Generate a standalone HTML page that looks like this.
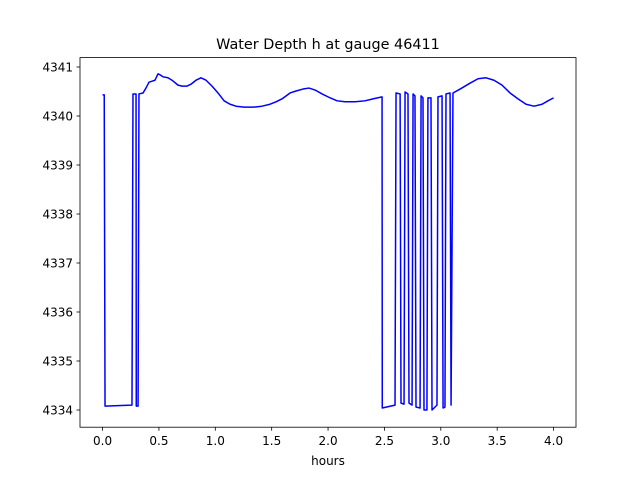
<!DOCTYPE html>
<html><head><meta charset="utf-8"><style>
body{margin:0;background:#fff;}
svg{display:block;font-family:"DejaVu Sans","Liberation Sans",sans-serif;}
</style></head><body>
<svg id="chart" width="640" height="480">
<rect width="640" height="480" fill="#fff"/>
<text x="328" y="49" font-size="14.4" text-anchor="middle">Water Depth h at gauge 46411</text>
<g id="xt"></g>
<g id="yt"></g>
<path id="line" fill="none" stroke="#0000ff" stroke-width="1.5" stroke-linejoin="round"/>
<rect x="80" y="57.6" width="496" height="369.6" fill="none" stroke="#000" stroke-width="0.8"/>
<text x="328" y="465" font-size="12" text-anchor="middle">hours</text>
</svg>
<script>
const times=[0,0.015,0.022,0.261,0.270,0.272,0.297,0.299,0.315,0.323,0.359,0.385,0.412,0.439,0.465,0.492,0.510,0.536,0.580,0.616,0.669,0.705,0.749,0.785,0.829,0.873,0.918,0.971,1.024,1.078,1.131,1.184,1.255,1.335,1.414,1.485,1.539,1.592,1.663,1.716,1.778,1.831,1.885,1.947,2.018,2.080,2.151,2.240,2.328,2.399,2.479,2.481,2.594,2.603,2.639,2.647,2.674,2.683,2.709,2.718,2.745,2.754,2.771,2.780,2.816,2.825,2.842,2.851,2.877,2.886,2.913,2.922,2.966,2.975,3.011,3.020,3.037,3.046,3.082,3.091,3.108,3.171,3.259,3.330,3.401,3.472,3.543,3.614,3.685,3.756,3.827,3.898,3.951,4.0];
const depths=[4340.43,4340.43,4334.08,4334.10,4340.45,4340.45,4340.45,4334.08,4334.08,4340.45,4340.47,4340.57,4340.69,4340.71,4340.73,4340.86,4340.84,4340.80,4340.78,4340.73,4340.63,4340.61,4340.61,4340.65,4340.73,4340.78,4340.73,4340.61,4340.47,4340.31,4340.24,4340.20,4340.18,4340.18,4340.20,4340.24,4340.29,4340.35,4340.47,4340.51,4340.55,4340.57,4340.53,4340.45,4340.37,4340.31,4340.29,4340.29,4340.31,4340.35,4340.39,4334.04,4334.10,4340.47,4340.45,4334.14,4334.12,4340.49,4340.45,4334.14,4334.10,4340.45,4340.41,4334.06,4334.04,4340.41,4340.37,4334.00,4334.00,4340.37,4340.37,4334.00,4334.10,4340.39,4340.41,4334.04,4334.06,4340.45,4340.47,4334.10,4340.47,4340.55,4340.67,4340.76,4340.78,4340.73,4340.63,4340.47,4340.35,4340.24,4340.20,4340.24,4340.31,4340.37];
const xTicks=[0,0.5,1,1.5,2,2.5,3,3.5,4];
const xLabels=["0.0","0.5","1.0","1.5","2.0","2.5","3.0","3.5","4.0"];
const yTicks=[4334,4335,4336,4337,4338,4339,4340,4341];
const yLabels=["4334","4335","4336","4337","4338","4339","4340","4341"];
const X=t=>102.55+t*112.75;
const Y=h=>410-(h-4334)*49;
const NS="http://www.w3.org/2000/svg";
const xt=document.getElementById('xt'),yt=document.getElementById('yt');
xTicks.forEach((t,i)=>{
 const l=document.createElementNS(NS,'line');
 l.setAttribute('x1',X(t));l.setAttribute('x2',X(t));l.setAttribute('y1',427.2);l.setAttribute('y2',430.7);l.setAttribute('stroke','#000');l.setAttribute('stroke-width','0.8');
 
 
 xt.appendChild(l);
 const tx=document.createElementNS(NS,'text');
 tx.setAttribute('x',X(t));tx.setAttribute('y',445);tx.setAttribute('font-size','12');tx.setAttribute('text-anchor','middle');tx.textContent=xLabels[i];
 
 
 xt.appendChild(tx);
});
yTicks.forEach((v,i)=>{
 const l=document.createElementNS(NS,'line');
 l.setAttribute('x1',76.5);l.setAttribute('x2',80);l.setAttribute('y1',Y(v));l.setAttribute('y2',Y(v));l.setAttribute('stroke','#000');l.setAttribute('stroke-width','0.8');
 
 
 yt.appendChild(l);
 const tx=document.createElementNS(NS,'text');
 tx.setAttribute('x',73);tx.setAttribute('y',Y(v)+4.5);tx.setAttribute('font-size','12');tx.setAttribute('text-anchor','end');tx.textContent=yLabels[i];
 
 
 yt.appendChild(tx);
});
document.getElementById('line').setAttribute('d',times.map((t,i)=>(i?'L':'M')+X(t).toFixed(2)+','+Y(depths[i]).toFixed(2)).join(''));
</script>
</body></html>
